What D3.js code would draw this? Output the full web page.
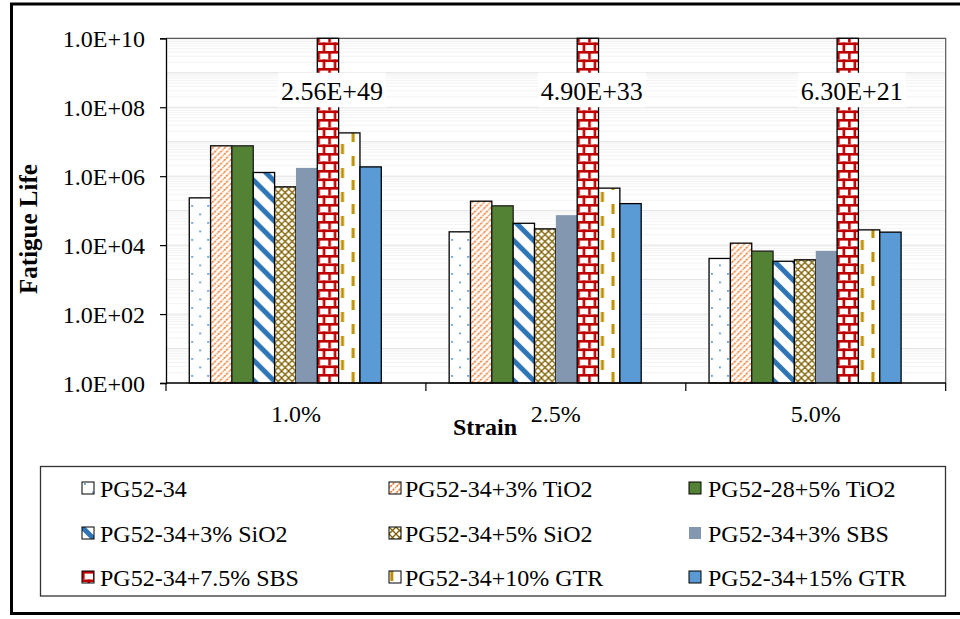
<!DOCTYPE html>
<html><head><meta charset="utf-8">
<script src="https://cdn.jsdelivr.net/npm/d3@7/dist/d3.min.js"></script>
<style>
html,body{margin:0;padding:0;background:#fff;}
svg{display:block;}
svg text{font-family:"Liberation Serif","Times New Roman",serif;}
</style></head>
<body>
<svg id="chart" width="960" height="619"></svg>
<script>
// ---- data ----
const categories = ["1.0%", "2.5%", "5.0%"];
const seriesNames = ["PG52-34", "PG52-34+3% TiO2", "PG52-28+5% TiO2",
  "PG52-34+3% SiO2", "PG52-34+5% SiO2", "PG52-34+3% SBS",
  "PG52-34+7.5% SBS", "PG52-34+10% GTR", "PG52-34+15% GTR"];
const pg5234   = [2.35e5, 2.43e4, 4.1e3];
const tio2_3   = [7.6e6, 1.88e5, 1.14e4];
const tio2_5   = [7.6e6, 1.38e5, 6.7e3];
const sio2_3   = [1.28e6, 4.3e4, 3.4e3];
const sio2_5   = [4.9e5, 2.96e4, 3.75e3];
const sbs_3    = [1.74e6, 7.4e4, 6.8e3];
const sbs_75   = [2.56e49, 4.90e33, 6.30e21];
const gtr_10   = [1.8e7, 4.5e5, 2.77e4];
const gtr_15   = [1.86e6, 1.6e5, 2.38e4];
const seriesValues = [pg5234, tio2_3, tio2_5, sio2_3, sio2_5, sbs_3, sbs_75, gtr_10, gtr_15];
const annotationLabels = ["2.56E+49", "4.90E+33", "6.30E+21"];
const yTickValues = [1, 1e2, 1e4, 1e6, 1e8, 1e10];
const yTitle = "Fatigue Life";
const xTitle = "Strain";

// ---- styles ----
const FONT = "'Liberation Serif', 'Times New Roman', serif";
const styles = [
  {type: "dots", color: "#5b9bd5", stroke: "#000"},
  {type: "fwd", color: "#ed7d31", stroke: "#000"},
  {type: "solid", color: "#548235", stroke: "#1f1f1f"},
  {type: "wdiag", color: "#2e75b6", stroke: "#000"},
  {type: "lattice", color: "#7f6000", stroke: "#000"},
  {type: "solid", color: "#8497b0", stroke: "none"},
  {type: "brick", color: "#c00000", stroke: "#000"},
  {type: "vdash", color: "#bf9000", stroke: "#000"},
  {type: "solid", color: "#5b9bd5", stroke: "#000"}
];

const svg = d3.select("#chart");
const defs = svg.append("defs");

const M = {left: 166, right: 945.7, top: 38.3, bottom: 383};
const x0 = d3.scaleBand().domain(categories).range([M.left, M.right]).padding(0);
const x1 = d3.scaleBand().domain(d3.range(seriesNames.length + 1)).range([0, x0.bandwidth()])
  .paddingInner(0).paddingOuter(1.09);
const y = d3.scaleLog().domain([1, 1e10]).range([M.bottom, M.top]).clamp(true);

let pid = 0;
function makeFill(st, ox, oy, bw) {
  if (st.type === "solid") return st.color;
  const id = "p" + (pid++);
  const p = defs.append("pattern").attr("id", id).attr("patternUnits", "userSpaceOnUse")
    .attr("x", ox).attr("y", oy);
  const c = st.color;
  if (st.type === "dots") {
    p.attr("width", 16).attr("height", 17);
    p.append("rect").attr("width", 16).attr("height", 17).attr("fill", "#fff");
    p.append("rect").attr("x", 2).attr("y", 1).attr("width", 1.8).attr("height", 1.8).attr("fill", c);
    p.append("rect").attr("x", 10).attr("y", 9.5).attr("width", 1.8).attr("height", 1.8).attr("fill", c);
  } else if (st.type === "fwd") {
    p.attr("width", 6).attr("height", 6);
    p.append("rect").attr("width", 6).attr("height", 6).attr("fill", "#fff");
    p.append("path").attr("d", "M-1,7 L7,-1 M-4,4 L4,-4 M2,10 L10,2")
      .attr("stroke", c).attr("stroke-width", 1.6).attr("stroke-dasharray", "2.4 0.8");
  } else if (st.type === "wdiag") {
    p.attr("width", 20).attr("height", 20);
    p.append("rect").attr("width", 20).attr("height", 20).attr("fill", "#fff");
    p.append("path").attr("d", "M-2,-2 L22,22 M-12,8 L12,32 M8,-12 L32,12")
      .attr("stroke", c).attr("stroke-width", 5);
  } else if (st.type === "lattice") {
    p.attr("width", 7).attr("height", 7);
    p.append("rect").attr("width", 7).attr("height", 7).attr("fill", "#fff");
    p.append("path").attr("d", "M0,0 L7,7 M7,0 L0,7")
      .attr("stroke", c).attr("stroke-width", 1.3);
  } else if (st.type === "brick") {
    p.attr("width", 11).attr("height", 17);
    p.append("rect").attr("width", 11).attr("height", 17).attr("fill", "#fff");
    p.append("rect").attr("x", 0).attr("y", 0).attr("width", 11).attr("height", 2.6).attr("fill", c);
    p.append("rect").attr("x", 0).attr("y", 8.5).attr("width", 11).attr("height", 2.6).attr("fill", c);
    p.append("rect").attr("x", 0).attr("y", 0).attr("width", 2.6).attr("height", 8.5).attr("fill", c);
    p.append("rect").attr("x", 5.5).attr("y", 8.5).attr("width", 2.6).attr("height", 8.5).attr("fill", c);
  } else if (st.type === "vdash") {
    const w = bw || 21.33;
    p.attr("width", w).attr("height", 24);
    p.append("rect").attr("width", w).attr("height", 24).attr("fill", "#fff");
    p.append("rect").attr("x", w * 0.11).attr("y", 0).attr("width", 3).attr("height", 10).attr("fill", c);
    p.append("rect").attr("x", w * 0.61).attr("y", 12).attr("width", 3).attr("height", 10).attr("fill", c);
  }
  return "url(#" + id + ")";
}

// outer frame
svg.append("rect").attr("x", 11.5).attr("y", 4).attr("width", 1000).attr("height", 609.5)
  .attr("fill", "none").attr("stroke", "#000").attr("stroke-width", 3);

// gridlines (major and minor)
const gridG = svg.append("g");
for (let e = 0; e < 10; e++) {
  for (let m = 1; m <= 9; m++) {
    const v = m * Math.pow(10, e);
    gridG.append("line").attr("x1", M.left).attr("x2", M.right)
      .attr("y1", y(v)).attr("y2", y(v))
      .attr("stroke", m === 1 ? "#e2e2e2" : "#f3f3f3").attr("stroke-width", 1);
  }
}

// plot border (top & right)
svg.append("path").attr("d", `M${M.left},${M.top}H${M.right}V${M.bottom}`)
  .attr("fill", "none").attr("stroke", "#595959").attr("stroke-width", 1.2);

// bars
const barsG = svg.append("g");
categories.forEach((cat, ci) => {
  seriesNames.forEach((s, si) => {
    const v = seriesValues[si][ci];
    const bx = x0(cat) + x1(si);
    const bw = x1.bandwidth();
    const top = y(v);
    const st = styles[si];
    barsG.append("rect").attr("x", bx).attr("y", top).attr("width", bw).attr("height", M.bottom - top)
      .attr("fill", makeFill(st, bx, 0, bw))
      .attr("stroke", st.stroke).attr("stroke-width", 1.3);
  });
});

// annotation labels for clipped bars
const annoIdx = 6;
categories.forEach((cat, ci) => {
  const cx = x0(cat) + x1(annoIdx) + x1.bandwidth() / 2 + 4;
  const y1 = y(1e9), y2 = y(1e8);
  svg.append("rect").attr("x", cx - 54).attr("y", y1).attr("width", 108).attr("height", y2 - y1)
    .attr("fill", "#fff");
  svg.append("text").attr("x", cx).attr("y", y2 - 7.5).attr("text-anchor", "middle")
    .attr("font-family", FONT).attr("font-size", 26).attr("fill", "#000").text(annotationLabels[ci]);
});

// y axis
const fmt = v => {
  const e = Math.round(Math.log10(v));
  return "1.0E+" + (e < 10 ? "0" + e : "" + e);
};
const yAxis = svg.append("g").attr("transform", `translate(${M.left},0)`)
  .call(d3.axisLeft(y).tickValues(yTickValues).tickFormat(fmt).tickSize(6).tickPadding(15))
  .attr("font-family", FONT);
yAxis.select(".domain").attr("stroke", "#000").attr("stroke-width", 1.3);
yAxis.selectAll(".tick line").attr("stroke", "#000").attr("stroke-width", 1.2);
yAxis.selectAll(".tick text").attr("font-family", FONT).attr("font-size", 24)
  .attr("fill", "#000").attr("dy", "0.34em");

// x axis
const xAxisG = svg.append("g");
xAxisG.append("line").attr("x1", M.left).attr("x2", M.right).attr("y1", M.bottom).attr("y2", M.bottom)
  .attr("stroke", "#000").attr("stroke-width", 1.3);
const sepPos = categories.map(c => x0(c)).concat([M.right]);
xAxisG.selectAll("line.sep").data(sepPos).enter().append("line").attr("class", "sep")
  .attr("x1", d => d).attr("x2", d => d).attr("y1", M.bottom).attr("y2", M.bottom + 8)
  .attr("stroke", "#000").attr("stroke-width", 1.2);
xAxisG.selectAll("text.cat").data(categories).enter().append("text").attr("class", "cat")
  .attr("x", d => x0(d) + x0.bandwidth() / 2).attr("y", 422).attr("text-anchor", "middle")
  .attr("font-family", FONT).attr("font-size", 24).attr("fill", "#000").text(d => d);

// axis titles
svg.append("text").attr("x", 485).attr("y", 435).attr("text-anchor", "middle")
  .attr("font-family", FONT).attr("font-size", 24).attr("font-weight", "bold").text(xTitle);
svg.append("text").attr("transform", "translate(37,229) rotate(-90)").attr("text-anchor", "middle")
  .attr("font-family", FONT).attr("font-size", 25).attr("font-weight", "bold").text(yTitle);

// legend
svg.append("rect").attr("x", 40.5).attr("y", 466.5).attr("width", 905).attr("height", 129.5)
  .attr("fill", "#fff").attr("stroke", "#333").attr("stroke-width", 1.3);
const colSw = [82, 389, 689];
const colTx = [100, 405, 708];
const rowY = [497, 542, 586];
seriesNames.forEach((s, i) => {
  const col = i % 3, row = Math.floor(i / 3);
  const sx = colSw[col], sy = rowY[row] - 15;
  const st = styles[i];
  svg.append("rect").attr("x", sx).attr("y", sy).attr("width", 12).attr("height", 12)
    .attr("fill", makeFill(st, sx, sy, 12))
    .attr("stroke", st.stroke === "none" ? "none" : "#000").attr("stroke-width", 1);
  svg.append("text").attr("x", colTx[col]).attr("y", rowY[row])
    .attr("font-family", FONT).attr("font-size", 24).attr("fill", "#000").text(s);
});
</script>
</body></html>
